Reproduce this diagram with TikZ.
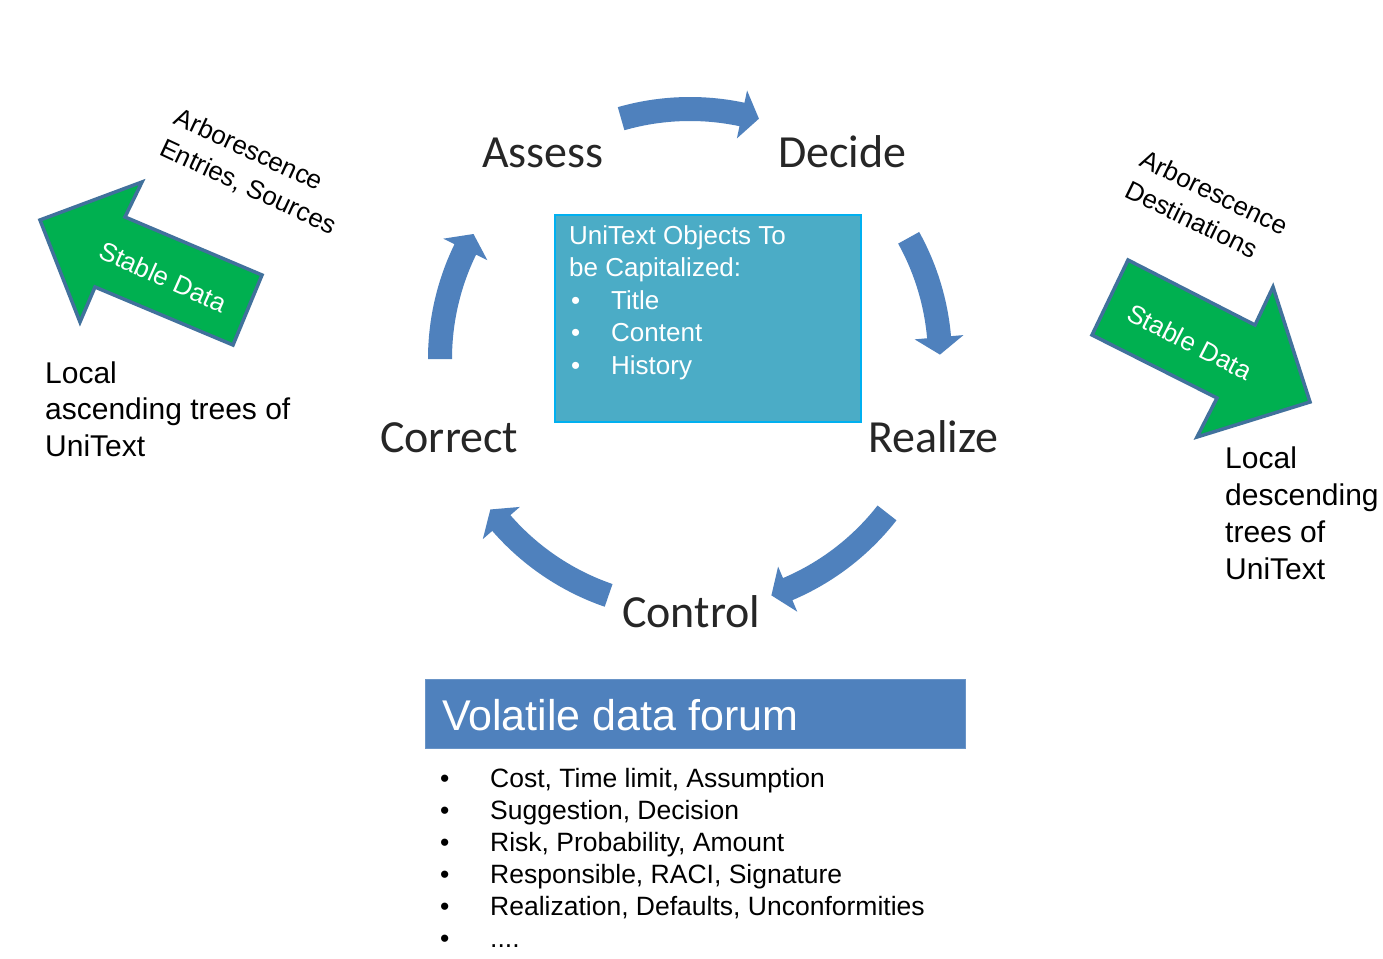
\documentclass[tikz,border=0pt]{standalone}
\usepackage{fontspec}
\setmainfont{Liberation Sans}
\newfontfamily\calfont{Carlito}
\definecolor{arcblue}{HTML}{4F81BD}
\definecolor{grn}{HTML}{00B050}
\definecolor{grnedge}{HTML}{41719C}
\definecolor{boxfill}{HTML}{4BACC6}
\definecolor{boxedge}{HTML}{00B0F0}
\newcommand\arcarrow[3]{%
  \fill[arcblue] (#1:262) arc[start angle=#1, end angle=#2, radius=262]
    -- (#2:274.5) -- (#3:250) -- (#2:225.5) -- (#2:238)
    arc[start angle=#2, end angle=#1, radius=238] -- cycle;}
\tikzset{
  cyclelbl/.style={font=\calfont\fontsize{46}{50}\selectfont, text=black!85, inner sep=0pt, anchor=base west},
  plain/.style={font=\fontsize{30}{36.7}\selectfont, inner sep=0pt, anchor=base west, align=left},
  slant/.style={font=\fontsize{26}{34}\selectfont, inner sep=0pt, anchor=base west, align=left},
  stable/.style={font=\fontsize{26}{30}\selectfont, text=white, inner sep=0pt},
  greenarrow/.style={fill=grn, draw=grnedge, line width=3.5pt, line join=miter},
  boxtext/.style={font=\fontsize{26}{32.5}\selectfont, text=white, inner sep=0pt, anchor=base west, align=left},
  listtext/.style={font=\fontsize{26.5}{32}\selectfont, inner sep=0pt, anchor=base west, align=left}
}
\begin{document}
\begin{tikzpicture}[x=1pt,y=1pt]
\useasboundingbox (0,0) rectangle (1383,-958);
\fill[white] (0,0) rectangle (1383,-958);

% cycle arrows
\begin{scope}[shift={(690,-359)}]
  \arcarrow{106}{78}{74}
  \arcarrow{29}{5}{1}
  \arcarrow{-38}{-67}{-71}
  \arcarrow{-109}{-139}{-143}
  \arcarrow{180}{154}{150}
\end{scope}

% cycle labels
\node[cyclelbl] (assess) at (482,-167) {Assess};
\node[cyclelbl] (decide) at (778,-167) {Decide};
\node[cyclelbl] (correct) at (380,-452) {Correct};
\node[cyclelbl] (realize) at (868,-452) {Realize};
\node[cyclelbl] (control) at (622,-627) {Control};

% central box
\node[draw=boxedge, line width=1.5pt, fill=boxfill, minimum width=306pt, minimum height=207pt, inner sep=0pt, anchor=north west] (ubox) at (554,-214) {};
\node[boxtext] (utext) at (569,-374) {UniText Objects To\\be Capitalized:\\\makebox[42pt][l]{\hspace{2pt}•}Title\\\makebox[42pt][l]{\hspace{2pt}•}Content\\\makebox[42pt][l]{\hspace{2pt}•}History};

% left green arrow
\draw[greenarrow] (40,-220) -- (142,-182) -- (125,-217) -- (262,-275) -- (233,-345) -- (95,-287) -- (80,-322) -- cycle;
\node[stable, rotate=-24] (lstable) at (163,-277) {Stable Data};
\node[slant, rotate=-25] (larb) at (158,-154) {Arborescence\\Entries, Sources};
\node[plain] (lasc) at (45,-456.4) {Local\\ascending trees of\\UniText};

% right green arrow
\draw[greenarrow] (1128,-260) -- (1255,-325) -- (1273,-287) -- (1310,-402) -- (1197,-437) -- (1217,-398) -- (1092,-335) -- cycle;
\node[stable, rotate=-27] (rstable) at (1190,-342) {Stable Data};
\node[slant, rotate=-26] (rarb) at (1123,-196) {Arborescence\\Destinations};
\node[plain] (rdesc) at (1225,-579) {Local\\descending\\trees of\\UniText};

% volatile data forum
\node[fill=arcblue, draw=arcblue!85!white, line width=1pt, minimum width=540pt, minimum height=69pt, inner sep=0pt, anchor=north west] (vbox) at (425,-679) {};
\node[font=\fontsize{43}{50}\selectfont, text=white, inner sep=0pt, anchor=base west] (vtitle) at (442,-730) {Volatile data forum};
\node[listtext] (vlist) at (440,-947) {\makebox[50pt][l]{•}Cost, Time limit, Assumption\\
\makebox[50pt][l]{•}Suggestion, Decision\\
\makebox[50pt][l]{•}Risk, Probability, Amount\\
\makebox[50pt][l]{•}Responsible, RACI, Signature\\
\makebox[50pt][l]{•}Realization, Defaults, Unconformities\\
\makebox[50pt][l]{•}....};
\end{tikzpicture}
\end{document}
